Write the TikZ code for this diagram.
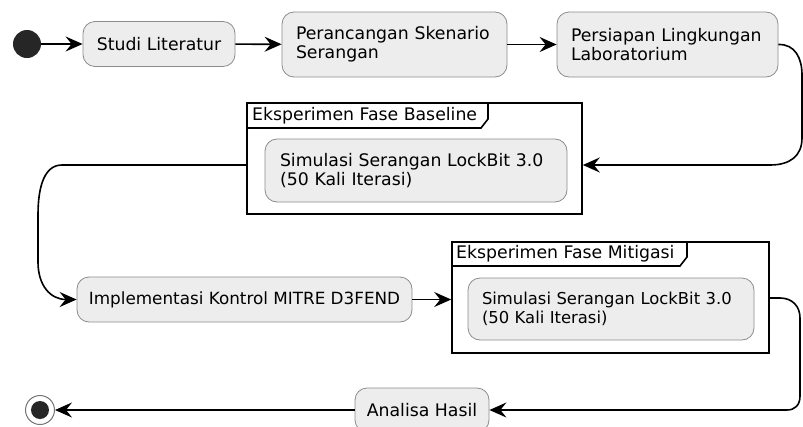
\documentclass[tikz,border=0pt]{standalone}
\usepackage{fontspec}
\setmainfont{DejaVu Sans}
\usetikzlibrary{arrows.meta}
\tikzset{
	act/.style={draw=black!45, line width=0.8pt, fill=black!7, rounded corners=12pt, font=\fontsize{17.3}{19}\selectfont, align=left, inner sep=0pt},
	frm/.style={draw=black, line width=1.6pt, inner sep=0pt},
	frmtitle/.style={anchor=west, inner sep=0pt, font=\fontsize{17.3}{19}\selectfont},
	flow/.style={line width=1.6pt, -{Stealth[length=17pt,width=15pt,inset=6pt]}},
}

\begin{document}
\begin{tikzpicture}[x=1pt, y=-1pt]
		%%%%% START %%%%%
		\useasboundingbox (0,0) rectangle (803,426);
		
		\node[circle, fill=black!85, minimum size=28pt, inner sep=0pt] (start) at (27,44) {};
		
		\node[act, minimum width=152, minimum height=45] (studi) at (159,44) {Studi Literatur};
		\node[act, minimum width=225, minimum height=65, text width=197] (rancang) at (394.5,44.5) {Perancangan Skenario\\Serangan};
		\node[act, minimum width=221, minimum height=65, text width=193] (siap) at (667.5,44.5) {Persiapan Lingkungan\\Laboratorium};
		
		% fase baseline
		\node[frm, minimum width=335, minimum height=111] (baseline) at (414.5,158.5) {};
		\draw[frm] (247,128) -- (481,128) -- (488,119) -- (488,103);
		\node[frmtitle] (basetitle) at (252,115.5) {Eksperimen Fase Baseline};
		\node[act, minimum width=302, minimum height=63, text width=272] (simbase) at (416,170.5) {Simulasi Serangan LockBit 3.0\\(50 Kali Iterasi)};
		
		\node[act, minimum width=335, minimum height=45, font=\fontsize{16.8}{19}\selectfont] (implement) at (244.5,299.5) {Implementasi Kontrol MITRE D3FEND};
		
		% fase mitigasi
		\node[frm, minimum width=317, minimum height=111] (mitigasi) at (610.5,297.5) {};
		\draw[frm] (452,266) -- (680,266) -- (687,257) -- (687,242);
		\node[frmtitle] (mitititle) at (456,254) {Eksperimen Fase Mitigasi};
		\node[act, minimum width=286, minimum height=62, text width=258, font=\fontsize{16.4}{19}\selectfont] (simmiti) at (611,309) {Simulasi Serangan LockBit 3.0\\(50 Kali Iterasi)};
		
		\node[act, minimum width=134, minimum height=44] (analisa) at (422,410) {Analisa Hasil};
		
		\node[circle, draw=black!55, line width=1pt, fill=white, minimum size=29pt, inner sep=0pt] (stop) at (40,410) {};
		\fill[black!85] (stop.center) circle (9);
		
		\draw[flow] (start) -- (studi);
		\draw[flow] (studi) -- (rancang);
		\draw[flow] (rancang) -- (siap);
		\draw[flow] (siap.east) .. controls (795,44) and (802,58) .. (802,75) -- (802,138) .. controls (802,156) and (790,165) .. (770,165) -- (baseline.east |- 0,165);
		\draw[flow] (baseline.west |- 0,165) -- (62,165) .. controls (45,165) and (38,185) .. (38,215) -- (38,262) .. controls (38,285) and (50,299.5) .. (implement.west);
		\draw[flow] (implement.east) -- (mitigasi.west |- implement.east);
		\draw[flow] (mitigasi.east |- 0,298) -- (780,298) .. controls (792,298) and (800,306) .. (800,318) -- (800,396) .. controls (800,405) and (795,410) .. (787,410) -- (analisa.east);
		\draw[flow] (analisa) -- (stop);
		
		%%%%% END %%%%%
\end{tikzpicture}
\end{document}
